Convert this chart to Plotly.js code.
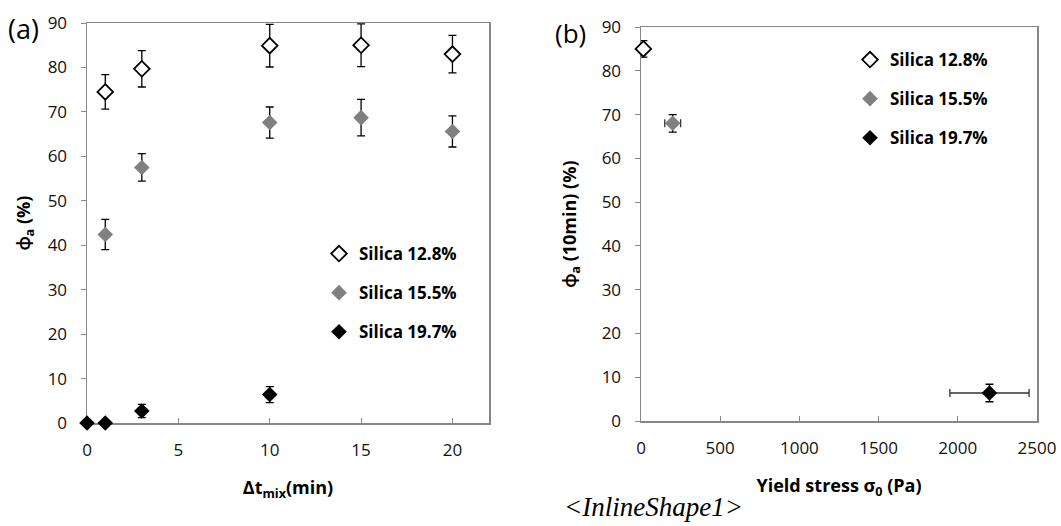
<!DOCTYPE html>
<html>
<head>
<meta charset="utf-8">
<script src="https://cdn.plot.ly/plotly-3.0.1.min.js"></script>
<style>html,body{margin:0;padding:0;background:#fff;}#chart{width:1061px;height:526px;}</style>
</head>
<body>
<div id="chart"></div>
<script>
// ---- data: panel (a) phi_a vs mixing time ----
const seriesNames = ["Silica 12.8%", "Silica 15.5%", "Silica 19.7%"];
const mixTime128 = [1, 3, 10, 15, 20];
const phi128 = [74.5, 79.7, 84.9, 85.0, 83.0];
const phiErr128 = [3.9, 4.1, 4.8, 4.8, 4.2];
const mixTime155 = [1, 3, 10, 15, 20];
const phi155 = [42.4, 57.5, 67.6, 68.7, 65.6];
const phiErr155 = [3.4, 3.1, 3.5, 4.1, 3.5];
const mixTime197 = [0, 1, 3, 10];
const phi197 = [0, 0, 2.7, 6.4];
const phiErr197 = [0, 0, 1.5, 1.8];
// ---- data: panel (b) phi_a(10min) vs yield stress ----
const yieldStress = [15, 200, 2200];
const yieldStressErr = [10, 50, 250];
const phi10 = [85.0, 68.0, 6.4];
const phi10Err = [1.9, 2.0, 2.0];
const xTicksA = [0, 5, 10, 15, 20];
const xTicksB = [0, 500, 1000, 1500, 2000, 2500];
const yTicks = [0, 10, 20, 30, 40, 50, 60, 70, 80, 90];

const FONT = "Open Sans, Lato, sans-serif";
const styles = [
  {symbol: "diamond", color: "#ffffff", line: {color: "#000000", width: 1.8}},
  {symbol: "diamond", color: "#808080", line: {color: "#808080", width: 0}},
  {symbol: "diamond", color: "#000000", line: {color: "#000000", width: 0}}
];
function mk(i) { return Object.assign({size: 12}, styles[i]); }
const errStyle = {color: "#000000", thickness: 1.3, width: 4};

const traces = [];
const aX = [mixTime128, mixTime155, mixTime197];
const aY = [phi128, phi155, phi197];
const aE = [phiErr128, phiErr155, phiErr197];
for (let i = 0; i < 3; i++) {
  traces.push({
    type: "scatter", mode: "markers", x: aX[i], y: aY[i], name: seriesNames[i],
    xaxis: "x", yaxis: "y", legend: "legend", legendgroup: "a" + i,
    marker: mk(i), cliponaxis: false,
    error_y: Object.assign({type: "data", array: aE[i], visible: true}, errStyle)
  });
}
for (let i = 0; i < 3; i++) {
  traces.push({
    type: "scatter", mode: "markers", x: [yieldStress[i]], y: [phi10[i]], name: seriesNames[i],
    xaxis: "x2", yaxis: "y2", legend: "legend2", legendgroup: "b" + i,
    marker: mk(i), cliponaxis: false,
    error_y: Object.assign({type: "data", array: [phi10Err[i]], visible: true}, errStyle),
    error_x: Object.assign({type: "data", array: [yieldStressErr[i]], visible: true}, errStyle, {color: "#333333"})
  });
}

const W = 1061, H = 526;
const axCommon = {
  showgrid: false, zeroline: false, showline: true, mirror: true,
  linecolor: "#888888", linewidth: 1.5, ticklen: 5, tickwidth: 1, tickcolor: "#888888",
  tickfont: {family: FONT, size: 17, color: "#111111"}, layer: "below traces"
};
const titleFont = {family: FONT, size: 18, color: "#000000", weight: "bold"};

const layout = {
  width: W, height: H, margin: {l: 0, r: 0, t: 0, b: 0},
  paper_bgcolor: "#ffffff", plot_bgcolor: "#ffffff",
  showlegend: true,
  xaxis: Object.assign({}, axCommon, {
    domain: [87 / W, 489 / W], range: [0, 22], tickvals: xTicksA, ticks: "inside",
    ticklabelstandoff: 11, anchor: "y",
    title: {text: "<b>Δt<sub>mix</sub>(min)</b>", font: titleFont, standoff: 21}
  }),
  yaxis: Object.assign({}, axCommon, {
    domain: [(H - 423) / H, (H - 23) / H], range: [0, 90], tickvals: yTicks, ticks: "outside",
    ticklabelstandoff: 10, anchor: "x",
    title: {text: "<b>ϕ<sub>a</sub> (%)</b>", font: titleFont, standoff: 12}
  }),
  xaxis2: Object.assign({}, axCommon, {
    domain: [641 / W, 1037 / W], range: [0, 2500], tickvals: xTicksB, ticks: "inside",
    ticklabelstandoff: 11, anchor: "y2",
    title: {text: "<b>Yield stress σ<sub>0</sub> (Pa)</b>", font: titleFont, standoff: 21}
  }),
  yaxis2: Object.assign({}, axCommon, {
    domain: [(H - 421) / H, (H - 27) / H], range: [0, 90], tickvals: yTicks, ticks: "outside",
    ticklabelstandoff: 10, anchor: "x2",
    title: {text: "<b>ϕ<sub>a</sub> (10min) (%)</b>", font: titleFont, standoff: 20}
  }),
  legend: {
    x: 319 / W, y: 1 - 236 / H, xanchor: "left", yanchor: "top",
    bgcolor: "rgba(0,0,0,0)", borderwidth: 0, tracegroupgap: 14,
    font: {family: FONT, size: 17, color: "#000000", weight: "bold"}
  },
  legend2: {
    x: 850 / W, y: 1 - 42 / H, xanchor: "left", yanchor: "top",
    bgcolor: "rgba(0,0,0,0)", borderwidth: 0, tracegroupgap: 14,
    font: {family: FONT, size: 17, color: "#000000", weight: "bold"}
  },
  annotations: [
    {text: "(a)", xref: "paper", yref: "paper", x: 6 / W, y: 1 - 28 / H, xanchor: "left", yanchor: "middle",
     showarrow: false, font: {family: FONT, size: 27, color: "#000000"}},
    {text: "(b)", xref: "paper", yref: "paper", x: 553 / W, y: 1 - 33 / H, xanchor: "left", yanchor: "middle",
     showarrow: false, font: {family: FONT, size: 26, color: "#000000"}},
    {text: "<i>&lt;InlineShape1&gt;</i>", xref: "paper", yref: "paper", x: 562 / W, y: 1 - 507 / H,
     xanchor: "left", yanchor: "middle", showarrow: false,
     font: {family: "Liberation Serif, Times New Roman, serif", size: 27, color: "#000000"}}
  ]
};

Plotly.newPlot("chart", traces, layout, {staticPlot: true, displayModeBar: false});
</script>
</body>
</html>
